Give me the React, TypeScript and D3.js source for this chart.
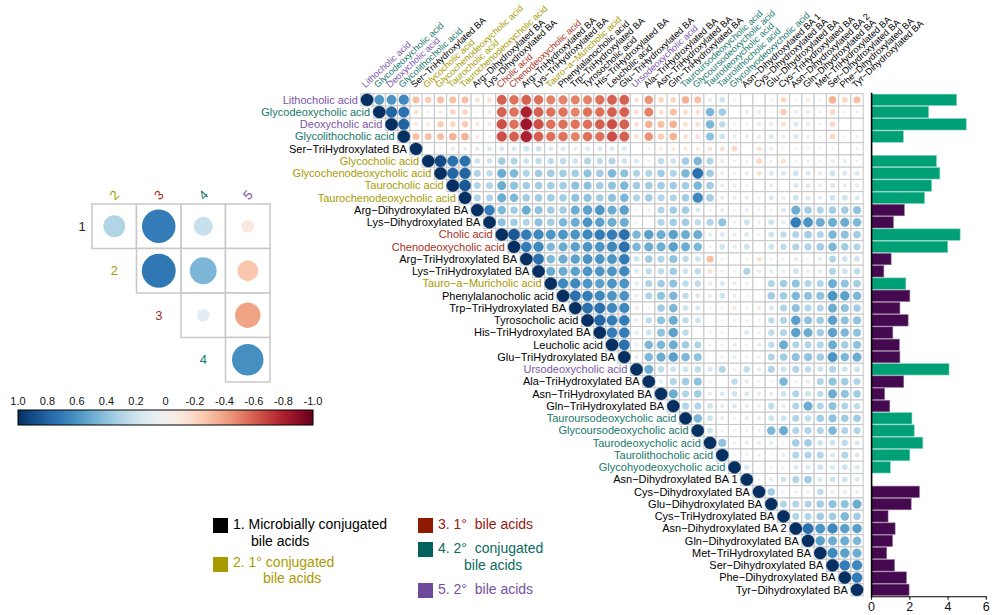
import React from "react";
import * as d3 from "d3";

// ---------- DATA ----------
const labels: string[] = [
  "Lithocholic acid", "Glycodeoxycholic acid", "Deoxycholic acid", "Glycolithocholic acid",
  "Ser\u2212TriHydroxylated BA", "Glycocholic acid", "Glycochenodeoxycholic acid", "Taurocholic acid",
  "Taurochenodeoxycholic acid", "Arg\u2212Dihydroxylated BA", "Lys\u2212Dihydroxylated BA", "Cholic acid",
  "Chenodeoxycholic acid", "Arg\u2212TriHydroxylated BA", "Lys\u2212TriHydroxylated BA", "Tauro\u2212a\u2212Muricholic acid",
  "Phenylalanocholic acid", "Trp\u2212TriHydroxylated BA", "Tyrosocholic acid", "His\u2212TriHydroxylated BA",
  "Leucholic acid", "Glu\u2212TriHydroxylated BA", "Ursodeoxycholic acid", "Ala\u2212TriHydroxylated BA",
  "Asn\u2212TriHydroxylated BA", "Gln\u2212TriHydroxylated BA", "Tauroursodeoxycholic acid", "Glycoursodeoxycholic acid",
  "Taurodeoxycholic acid", "Taurolithocholic acid", "Glycohyodeoxycholic acid", "Asn\u2212Dihydroxylated BA 1",
  "Cys\u2212Dihydroxylated BA", "Glu\u2212Dihydroxylated BA", "Cys\u2212TriHydroxylated BA", "Asn\u2212Dihydroxylated BA 2",
  "Gln\u2212Dihydroxylated BA", "Met\u2212TriHydroxylated BA", "Ser\u2212Dihydroxylated BA", "Phe\u2212Dihydroxylated BA",
  "Tyr\u2212Dihydroxylated BA",
];

// group: 1 microbial, 2 1° conj, 3 1°, 4 2° conj, 5 2°
const groups: number[] = [
  5, 4, 5, 4, 1, 2, 2, 2, 2, 1, 1, 3, 3, 1, 1, 2, 1, 1, 1, 1, 1, 1, 5, 1, 1, 1, 4, 4, 4, 4, 4,
  1, 1, 1, 1, 1, 1, 1, 1, 1, 1,
];

// bar values (null = no bar)
const barValues: (number | null)[] = [
  4.45, 2.98, 4.95, 1.66, null, 3.39, 3.57, 3.14, 2.77, 1.71, 1.14, 4.63, 3.98, 1.02, 0.64, 1.79,
  2.0, 1.48, 1.91, 1.11, 1.45, 1.48, 4.05, 1.68, 0.68, 0.95, 2.11, 2.23, 2.68, 2.0, 0.98, null,
  2.5, 2.07, 0.86, 1.23, 1.09, 0.79, 1.2, 1.82, 1.96,
];
const barTicks: number[] = [0, 2, 4, 6];

// upper-triangle correlations: row i holds values for columns i+1..41
const corrUpper: number[][] = [
  [.6, .6, .65, -.3, -.25, -.3, -.3, -.3, -.15, -.15, -.6, -.55, -.6, -.55, -.5, -.5, -.5, -.5, -.55, -.6, -.6, -.15, -.45, -.2, -.2, -.35, -.3, .1, .2, -.05, 0, 0, -.05, -.2, -.05, -.1, -.05, -.35, -.2, -.3],
  [.8, .75, -.15, -.05, -.1, -.2, -.2, -.05, -.1, -.6, -.55, -.8, -.6, -.55, -.55, -.5, -.55, -.55, -.6, -.6, -.15, -.5, -.15, -.3, -.15, -.15, .45, .35, 0, .1, .1, .05, -.25, .1, .1, .05, -.2, .05, .05],
  [.8, -.1, -.1, -.25, -.2, -.25, -.1, -.1, -.65, -.55, -.85, -.65, -.55, -.55, -.55, -.55, -.6, -.65, -.6, -.15, -.35, -.3, -.35, -.15, -.15, .45, .25, .05, .05, .1, .1, -.15, .15, .1, .05, -.2, 0, 0],
  [-.3, -.3, -.3, -.35, -.35, -.1, -.05, -.65, -.6, -.8, -.6, -.55, -.55, -.5, -.55, -.55, -.65, -.6, -.15, -.45, -.25, -.35, -.15, -.15, .4, .2, .1, .1, .1, .15, -.1, .15, .1, .05, -.2, .05, .05],
  [0, .05, .1, .1, .1, .15, .15, .15, .2, .2, .15, .15, .1, .15, .15, .15, .15, 0, -.05, -.1, -.1, -.1, -.1, -.15, -.15, -.2, 0, -.15, -.1, -.05, .05, .05, -.05, -.05, 0, -.05],
  [.9, .75, .75, .2, .2, .35, .3, .2, .25, .25, .25, .2, .3, .25, .3, .2, .15, .05, .25, .2, .35, .45, .3, .1, .05, .05, -.2, .05, -.15, .05, .05, .05, .1, .1, .05],
  [.8, .8, .3, .25, .5, .45, .3, .35, .35, .35, .35, .4, .35, .45, .4, .3, .3, .35, .3, .45, .75, .35, .1, .05, .1, -.15, .15, .15, .2, .15, .1, .2, .15, .15],
  [.85, .3, .3, .5, .4, .35, .35, .35, .35, .4, .4, .35, .4, .45, .35, .35, .35, .35, .35, .45, .35, .1, .1, .05, 0, .1, 0, .15, .15, .1, .15, .1, .1],
  [.3, .3, .5, .45, .35, .35, .35, .35, .4, .4, .35, .4, .45, .3, .35, .3, .3, .35, .65, .35, .1, .1, .1, .05, .15, .1, .2, .15, .1, .2, .2, .15],
  [.7, .45, .35, .5, .4, .35, .35, .5, .55, .6, .5, .55, .05, .05, .3, .35, .35, .15, .05, .1, -.05, .1, -.05, .05, .15, .5, .35, .3, .35, .35, .4],
  [.4, .35, .3, .4, .35, .45, .5, .6, .55, .5, .5, .05, 0, .3, .35, .35, .25, .3, .4, -.05, .2, .05, .2, .1, .7, .6, .5, .5, .5, .45],
  [.85, .7, .65, .6, .6, .6, .65, .7, .7, .75, .45, .55, .5, .55, .5, .5, .1, .15, .1, .15, .05, .2, .25, .3, .35, .3, .45, .4, .35],
  [.7, .65, .45, .5, .55, .6, .6, .65, .75, .45, .5, .5, .55, .5, .45, .05, .2, .1, .2, 0, .2, .25, .3, .3, .35, .45, .35, .3],
  [.75, .45, .5, .55, .6, .6, .6, .7, .2, .35, .3, .4, .25, .2, -.3, -.05, 0, -.05, -.15, .05, .05, .1, .05, .1, .3, .2, .2],
  [.5, .5, .55, .6, .6, .6, .65, .15, .25, .25, .35, .2, .25, -.15, .05, .05, .3, .1, .1, .1, .2, .1, .1, .3, .2, .25],
  [.65, .65, .6, .55, .6, .6, .1, .3, .35, .4, .25, .25, .1, .15, .1, .05, 0, .3, .35, .4, .3, .3, .5, .4, .35],
  [.75, .7, .65, .6, .6, .1, .3, .4, .45, .25, .15, .1, .2, .1, .05, 0, .35, .35, .45, .4, .4, .6, .55, .45],
  [.75, .75, .65, .65, -.1, .05, .35, .45, .2, .15, .05, .05, -.1, .05, -.1, .15, .3, .4, .3, .3, .5, .4, .35],
  [.8, .7, .7, .1, .25, .4, .5, .25, .2, 0, .05, -.05, .05, .05, .25, .3, .55, .4, .35, .55, .4, .4],
  [.7, .7, .1, .2, .4, .55, .25, 0, .05, .05, 0, .15, .05, .25, .3, .55, .5, .35, .55, .45, .4],
  [.75, .1, .45, .45, .5, .35, .3, -.05, .05, .1, .05, .1, .25, .5, .3, .3, .3, .5, .35, .4],
  [.1, .45, .5, .55, .45, .4, 0, .05, .1, .05, .05, .3, .35, .4, .4, .35, .6, .45, .5],
  [.5, .25, .2, .2, .25, .15, .3, .05, .25, .1, .3, .2, .3, .25, .2, .3, .2, .2],
  [.1, .3, .35, .4, -.05, 0, .25, .1, .05, .05, .45, .05, .1, .3, .4, .35, .3],
  [.5, .3, .35, .1, .15, .2, .15, .1, .1, .2, .3, .2, .25, .5, .4, .35],
  [.3, .3, .2, .1, .15, .1, .1, .25, .1, .3, .5, .3, .4, .3, .25],
  [.45, .2, .1, .05, .1, .1, .2, .2, .3, .25, .35, .4, .35, .35],
  [.2, .05, .05, .05, .05, .45, .5, .3, .3, .3, .45, .3, .3],
  [.4, .05, .1, .1, .1, .05, .35, .35, .2, .2, .25, .15],
  [.05, .05, .05, -.03, .1, .3, .3, .3, .15, .3, .15],
  [.15, -.03, .05, .05, .15, .15, .2, .15, .2, .15],
  [.05, .1, .2, .3, .35, .15, .2, .2, .15],
  [.35, .05, .05, .05, .25, .1, .1, .1],
  [.3, .3, .3, .35, .4, .4, .5],
  [.3, .3, .35, .35, .45, .35],
  [.75, .6, .65, .55, .55],
  [.55, .5, .5, .45],
  [.65, .55, .5],
  [.7, .65],
  [.7],
];

// small group matrix (rows 1-4, cols 2-5)
const smallRowLabels: string[] = ["1", "2", "3", "4"];
const smallColLabels: string[] = ["2", "3", "4", "5"];
const smallValues: number[][] = [
  [0.3, 0.7, 0.22, -0.1],
  [0.72, 0.45, -0.27],
  [0.1, -0.4],
  [0.62],
];
const colorbarTicks: string[] = ["1.0", "0.8", "0.6", "0.4", "0.2", "0", "-0.2", "-0.4", "-0.6", "-0.8", "-1.0"];

const legendItems = [
  { lines: ["1. Microbially conjugated", "bile acids"], indent: 18 },
  { lines: ["2. 1\u00b0 conjugated", "bile acids"], indent: 30 },
  { lines: ["3. 1\u00b0  bile acids"], indent: 0 },
  { lines: ["4. 2\u00b0  conjugated", "bile acids"], indent: 26 },
  { lines: ["5. 2\u00b0  bile acids"], indent: 0 },
];

// ---------- STYLE ----------
const FONT = "'Liberation Sans', Arial, Helvetica, sans-serif";
const textColor: Record<number, string> = {
  1: "#000000",
  2: "#a69b00",
  3: "#a8301c",
  4: "#17776b",
  5: "#7a55a8",
};
const legendSquare: Record<number, string> = {
  1: "#000000",
  2: "#a89b00",
  3: "#8e1b00",
  4: "#00625a",
  5: "#6e4a9c",
};
const legendText: Record<number, string> = {
  1: "#000000",
  2: "#a89b00",
  3: "#962010",
  4: "#0b6b60",
  5: "#7551a3",
};
const BAR_GREEN = "#00a077";
const BAR_PURPLE = "#45094f";

const colorOf = (v: number) => d3.interpolateRdBu((v + 1) / 2);

export default function App() {
  const n = labels.length;
  const cell = 12.25;
  const gx0 = 360.9;
  const gy0 = 93.7;
  const xs = d3.scaleLinear().domain([0, n]).range([gx0, gx0 + n * cell]);
  const ys = d3.scaleLinear().domain([0, n]).range([gy0, gy0 + n * cell]);
  const rs = d3.scaleSqrt().domain([0, 1]).range([0, 6.2]);

  const bx = d3.scaleLinear().domain([0, 6]).range([871.6, 986.3]);
  const axisY = gy0 + n * cell + 0.8;

  // small matrix
  const sx0 = 92;
  const sy0 = 204;
  const sc = 44.5;
  const srs = d3.scaleSqrt().domain([0, 1]).range([0, 20]);

  // colorbar
  const cbx = d3.scaleLinear().domain([1, -1]).range([18, 313]);
  const cbY = 410;

  const cells: React.ReactNode[] = [];
  const circles: React.ReactNode[] = [];
  for (let i = 0; i < n; i++) {
    for (let j = i; j < n; j++) {
      cells.push(
        <rect key={`c${i}-${j}`} x={xs(j)} y={ys(i)} width={cell} height={cell}
          fill="white" stroke="#c6c6c6" strokeWidth={1} />
      );
      const v = i === j ? 1 : (corrUpper[i][j - i - 1] ?? 0);
      const r = rs(Math.abs(v));
      if (r > 0.3) {
        circles.push(
          <circle key={`p${i}-${j}`} cx={xs(j + 0.5)} cy={ys(i + 0.5)} r={r} fill={colorOf(v)}
            stroke={colorOf(v)} strokeWidth={0.3} />
        );
      }
    }
  }

  return (
    <svg width={1000} height={615} viewBox="0 0 1000 615"
      style={{ position: "absolute", left: 0, top: 0, background: "white" }} fontFamily={FONT}>
      <rect x={0} y={0} width={1000} height={615} fill="white" />

      {/* main matrix */}
      <g>{cells}</g>
      <g>{circles}</g>

      {/* row labels */}
      <g fontSize={11}>
        {labels.map((l, i) => (
          <text key={`rl${i}`} x={xs(i) - 3} y={ys(i + 0.5)} dy="0.35em" textAnchor="end"
            fill={textColor[groups[i]]}>{l}</text>
        ))}
      </g>

      {/* column labels */}
      <g fontSize={9.2}>
        {labels.map((l, j) => {
          const tx = xs(j + 0.5) - 1.5;
          const ty = gy0 - 5.5;
          return (
            <text key={`cl${j}`} transform={`translate(${tx},${ty}) rotate(-43)`} x={0} y={0}
              fill={textColor[groups[j]]}>{l}</text>
          );
        })}
      </g>

      {/* bars */}
      <g>
        {barValues.map((v, i) =>
          v == null ? null : (
            <rect key={`b${i}`} x={bx(0)} y={ys(i + 0.5) - 5.7} width={bx(v) - bx(0)} height={11.4}
              fill={groups[i] === 1 ? BAR_PURPLE : BAR_GREEN}
              stroke={groups[i] === 1 ? "#8a6a92" : "#7fd0b8"} strokeWidth={0.6} />
          )
        )}
        <line x1={bx(0)} x2={bx(0)} y1={gy0 - 1} y2={axisY} stroke="black" strokeWidth={1.6} />
        <line x1={bx(0) - 0.8} x2={bx(6) + 0.5} y1={axisY} y2={axisY} stroke="black" strokeWidth={1.2} />
        {barTicks.map((t) => (
          <g key={`bt${t}`}>
            <line x1={bx(t)} x2={bx(t)} y1={axisY} y2={axisY + 3} stroke="black" strokeWidth={1} />
            <text x={bx(t)} y={axisY + 14} textAnchor="middle" fontSize={12.5} fill="#111">{t}</text>
          </g>
        ))}
      </g>

      {/* small matrix */}
      <g>
        {smallValues.map((row, i) =>
          row.map((v, k) => {
            const col = i + k;
            const cx = sx0 + col * sc + sc / 2;
            const cy = sy0 + i * sc + sc / 2;
            return (
              <g key={`s${i}-${k}`}>
                <rect x={sx0 + col * sc} y={sy0 + i * sc} width={sc} height={sc} fill="white"
                  stroke="#c8c8c8" strokeWidth={1.5} />
                <circle cx={cx} cy={cy} r={srs(Math.abs(v))} fill={colorOf(v)} />
              </g>
            );
          })
        )}
        {smallColLabels.map((l, k) => {
          const cx = sx0 + k * sc + sc / 2;
          const cls = [2, 3, 4, 5][k];
          return (
            <text key={`sc${k}`} transform={`translate(${cx},${sy0 - 9}) rotate(-45)`} textAnchor="middle"
              dy="0.35em" fontSize={13} fill={textColor[cls]}>{l}</text>
          );
        })}
        {smallRowLabels.map((l, i) => {
          const px = i === 0 ? 82 : sx0 + (i - 1) * sc + sc / 2;
          const cy = sy0 + i * sc + sc / 2;
          const cls = [1, 2, 3, 4][i];
          return (
            <text key={`sr${i}`} x={px} y={cy} dy="0.35em" textAnchor="middle" fontSize={13}
              fill={cls === 1 ? "#222" : textColor[cls]}>{l}</text>
          );
        })}
      </g>

      {/* colorbar */}
      <defs>
        <linearGradient id="cbgrad" x1="0" x2="1" y1="0" y2="0">
          {d3.range(0, 1.0001, 0.05).map((t) => (
            <stop key={`st${t}`} offset={t} stopColor={d3.interpolateRdBu(1 - t)} />
          ))}
        </linearGradient>
      </defs>
      <rect x={cbx(1)} y={cbY} width={cbx(-1) - cbx(1)} height={15} fill="url(#cbgrad)" stroke="black" strokeWidth={1} />
      <g fontSize={11} fill="#111">
        {colorbarTicks.map((t) => (
          <text key={`cb${t}`} x={cbx(+t)} y={cbY - 5} textAnchor="middle">{t}</text>
        ))}
      </g>

      {/* legend */}
      <g fontSize={14}>
        {legendItems.map((it, idx) => {
          const pos = [
            { x: 213, y: 518, ly: [529, 546] },
            { x: 213, y: 557, ly: [567, 583] },
            { x: 418, y: 518, ly: [529] },
            { x: 418, y: 542, ly: [553, 570] },
            { x: 418, y: 583, ly: [594] },
          ][idx];
          const g = idx + 1;
          return (
            <g key={`lg${idx}`}>
              <rect x={pos.x} y={pos.y} width={15} height={15} fill={legendSquare[g]} />
              {it.lines.map((ln, li) => (
                <text key={`lt${li}`} x={pos.x + 20 + (li > 0 ? it.indent : 0)} y={pos.ly[li]}
                  fill={legendText[g]} style={{ whiteSpace: "pre" }}>{ln}</text>
              ))}
            </g>
          );
        })}
      </g>
    </svg>
  );
}
